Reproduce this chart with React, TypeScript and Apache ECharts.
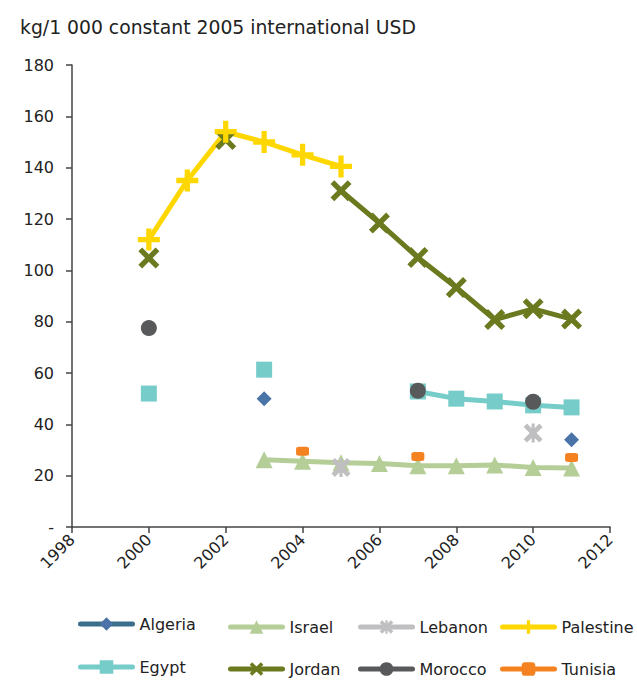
import React, { useEffect, useRef } from "react";
import * as echarts from "echarts";

const years = [2000, 2001, 2002, 2003, 2004, 2005, 2006, 2007, 2008, 2009, 2010, 2011];
const algeria = [null, null, null, 50, null, null, null, null, null, null, null, 34];
const egypt = [52, null, null, 61.3, null, null, null, 52.8, 50, 48.9, 47.4, 46.6];
const israel = [null, null, null, 26.2, 25.6, 25, 24.7, 23.9, 23.9, 24.2, 23.2, 23];
const jordan = [104.8, null, 151, null, null, 131, 118.4, 105, 93.3, 80.8, 85, 81];
const lebanon = [null, null, null, null, null, 23.2, null, null, null, null, 36.6, null];
const morocco = [77.5, null, null, null, null, null, null, 53.1, null, null, 48.8, null];
const palestine = [112, 135, 154, 150, 145, 140.5, null, null, null, null, null, null];
const tunisia = [null, null, null, null, 29.5, null, null, 27.5, null, null, null, 27.1];
const xTicks = [1998, 2012, 2];
const yTicks = [0, 180, 20];
const unitLabel = "kg/1 000 constant 2005 international USD";

const FONT = "DejaVu Sans";
const X_SYMBOL = "path://M1.8,0 L5,3.2 L8.2,0 L10,1.8 L6.8,5 L10,8.2 L8.2,10 L5,6.8 L1.8,10 L0,8.2 L3.2,5 L0,1.8 Z";
const STAR_SYMBOL = "path://M1.8,0 L5,3.2 L8.2,0 L10,1.8 L6.8,5 L10,8.2 L8.2,10 L5,6.8 L1.8,10 L0,8.2 L3.2,5 L0,1.8 Z M4.2,0 L5.8,0 L5.8,10 L4.2,10 Z";
const PLUS_SYMBOL = "path://M3.8,0 L6.2,0 L6.2,3.8 L10,3.8 L10,6.2 L6.2,6.2 L6.2,10 L3.8,10 L3.8,6.2 L0,6.2 L0,3.8 L3.8,3.8 Z";

function pairs(vals: (number | null)[]) {
  return years.map((y, i) => [y, vals[i] === null ? null : vals[i]]);
}

export default function App() {
  const ref = useRef<HTMLDivElement>(null);
  useEffect(() => {
    document.body.style.margin = "0";
    const chart = echarts.init(ref.current!, undefined, { renderer: "svg" });
    const mk = (name: string, vals: (number | null)[], color: string, symbol: string, size: any, lineColor?: string) => ({
      name,
      type: "line",
      data: pairs(vals),
      connectNulls: false,
      symbol,
      symbolSize: size,
      showSymbol: true,
      lineStyle: { color: lineColor || color, width: 5 },
      itemStyle: { color },
      emphasis: { disabled: true },
    });
    const leg = (name: string, left: number, top: number) => ({
      orient: "horizontal",
      left,
      top,
      padding: 0,
      itemWidth: 52,
      itemHeight: 17,
      data: [name],
      selectedMode: false,
      lineStyle: { width: 5, cap: "round" },
      textStyle: { fontFamily: FONT, fontSize: 16, color: "#222", lineHeight: 20, padding: [0, 0, 0, 2] },
    });
    chart.setOption({
      animation: false,
      textStyle: { fontFamily: FONT },
      title: {
        text: unitLabel,
        left: 20,
        top: 18,
        padding: 0,
        textStyle: { fontFamily: FONT, fontSize: 18.8, fontWeight: "normal", color: "#222" },
      },
      grid: { left: 72, right: 27, top: 65, bottom: 154, containLabel: false },
      xAxis: {
        type: "value",
        min: xTicks[0],
        max: xTicks[1],
        interval: xTicks[2],
        axisLine: { show: true, lineStyle: { color: "#444", width: 1.5 } },
        axisTick: { show: true, length: 6, lineStyle: { color: "#444", width: 1.5 } },
        splitLine: { show: false },
        axisLabel: { rotate: 45, margin: 10, fontFamily: FONT, fontSize: 16, color: "#222", formatter: (v: number) => String(v) },
      },
      yAxis: {
        type: "value",
        min: yTicks[0],
        max: yTicks[1],
        interval: yTicks[2],
        axisLine: { show: true, lineStyle: { color: "#444", width: 1.5 } },
        axisTick: { show: true, length: 6, lineStyle: { color: "#444", width: 1.5 } },
        splitLine: { show: false },
        axisLabel: { margin: 18, fontFamily: FONT, fontSize: 16, color: "#222", formatter: (v: number) => (v === 0 ? "-" : String(v)) },
      },
      legend: [
        leg("Algeria", 78, 614),
        leg("Egypt", 78, 657),
        leg("Israel", 228, 617),
        leg("Jordan", 228, 659),
        leg("Lebanon", 358, 617),
        leg("Morocco", 358, 659),
        leg("Palestine", 500, 617),
        leg("Tunisia", 500, 659),
      ],
      series: [
        mk("Algeria", algeria, "#4A74A8", "diamond", 15, "#3A6E8A"),
        mk("Egypt", egypt, "#76CCC8", "rect", 16),
        mk("Israel", israel, "#B5CE97", "triangle", 17),
        mk("Jordan", jordan, "#6B7A1F", X_SYMBOL, 21),
        mk("Lebanon", lebanon, "#BFBFC1", STAR_SYMBOL, 19),
        mk("Morocco", morocco, "#58595B", "circle", 16),
        mk("Palestine", palestine, "#FFD700", PLUS_SYMBOL, 22),
        mk("Tunisia", tunisia, "#F58220", "roundRect", [13, 9]),
      ],
    });
    return () => chart.dispose();
  }, []);
  return <div ref={ref} style={{ width: 637, height: 681 }} />;
}
